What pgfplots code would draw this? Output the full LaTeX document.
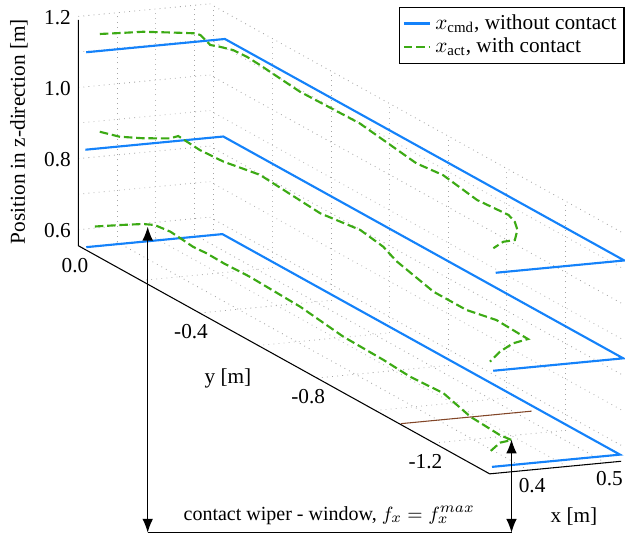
\documentclass[border=0pt]{standalone}
\usepackage{fontspec}
\setmainfont{Liberation Serif}
\usepackage{pgfplots}
\pgfplotsset{compat=1.18}
\usetikzlibrary{calc,arrows.meta}

\definecolor{cmdblue}{RGB}{20,130,250}
\definecolor{actgreen}{RGB}{60,170,20}
\definecolor{edgebrown}{RGB}{130,70,40}

\begin{document}
\begin{tikzpicture}
\begin{axis}[
  x={(363.31pt,34.78pt)}, y={(-137.71pt,76.375pt)}, z={(0pt,167.085pt)},
  xmin=0.35, xmax=0.52, ymin=-1.39, ymax=0.014, zmin=0.555, zmax=1.2,
  clip=false,
  axis line style={draw=none},
  major tick length=0pt, minor tick length=0pt,
  xtick={0.4,0.5}, xticklabels={0.4,0.5},
  ytick={-1.2,-0.8,-0.4,0}, yticklabels={-1.2,-0.8,-0.4,0.0},
  ztick={0.6,0.8,1.0,1.2}, zticklabels={0.6,0.8,1.0,1.2},
  xticklabel style={xshift=-2.6pt},
  yticklabel style={xshift=4pt},
  zticklabel style={yshift=-2.6pt},
  minor xtick={0.45}, minor ytick={-1.0,-0.6,-0.2}, minor ztick={0.7,0.9,1.1},
  grid=both,
  grid style={dotted, gray!70, line width=0.4pt},
  minor grid style={dotted, gray!55, line width=0.4pt},
  legend style={at={(axis cs:0.9723,-0.2085,1.2)}, anchor=north east,
    draw=black, line width=0.5pt, inner sep=1.5pt, row sep=-1.5pt},
  legend cell align=left,
  legend image code/.code={\draw[#1] (0cm,0cm) -- (0.43cm,0cm);},
]
% commanded path, three heights
\addplot3[cmdblue, line width=1pt] coordinates {
  (0.3425,-0.033,0.574) (0.5186,-0.033,0.574) (0.5186,-1.39,0.574) (0.353,-1.39,0.574)};
\addlegendentry{$x_{\mathrm{cmd}}$, without contact}
% actual path with contact
\addplot3[actgreen, line width=1pt, dash pattern=on 4pt off 1.8pt] coordinates {
  (0.393,0.071,0.574) (0.424,0.066,0.574) (0.451,0.060,0.574) (0.462,0.049,0.574)
  (0.466,0.006,0.574) (0.464,-0.034,0.574) (0.461,-0.084,0.574) (0.463,-0.126,0.574)
  (0.462,-0.187,0.574) (0.464,-0.270,0.574) (0.460,-0.453,0.574) (0.448,-0.632,0.574)
  (0.446,-0.775,0.574) (0.442,-0.876,0.574) (0.446,-0.979,0.574) (0.429,-1.116,0.574)
  (0.425,-1.227,0.574) (0.428,-1.259,0.574) (0.410,-1.267,0.574) (0.381,-1.309,0.574)};
\addlegendentry{$x_{\mathrm{act}}$, with contact}

\addplot3[cmdblue, line width=1pt, forget plot] coordinates {
  (0.3444,-0.025,0.844) (0.5228,-0.025,0.844) (0.5228,-1.39,0.844) (0.3546,-1.39,0.844)};
\addplot3[cmdblue, line width=1pt, forget plot] coordinates {
  (0.3447,-0.027,1.119) (0.5241,-0.027,1.119) (0.5241,-1.39,1.119) (0.3578,-1.39,1.119)};

\addplot3[actgreen, line width=1pt, dash pattern=on 4pt off 1.8pt, forget plot] coordinates {
  (0.396,0.062,0.844) (0.408,0.026,0.844) (0.431,0.006,0.844) (0.460,-0.008,0.844)
  (0.474,0.000,0.844) (0.470,-0.084,0.844) (0.473,-0.157,0.844) (0.482,-0.213,0.844)
  (0.487,-0.245,0.844) (0.477,-0.477,0.844) (0.488,-0.584,0.844) (0.480,-0.684,0.844)
  (0.466,-0.765,0.844) (0.446,-0.945,0.844) (0.446,-1.058,0.844) (0.459,-1.125,0.844)
  (0.456,-1.241,0.844) (0.431,-1.256,0.844) (0.400,-1.293,0.844) (0.369,-1.341,0.844)};
\addplot3[actgreen, line width=1pt, dash pattern=on 4pt off 1.8pt, forget plot] coordinates {
  (0.396,0.062,1.119) (0.420,0.057,1.119) (0.448,0.052,1.119) (0.476,0.035,1.119)
  (0.502,0.018,1.119) (0.505,0.006,1.119) (0.496,-0.051,1.119) (0.503,-0.065,1.119)
  (0.511,-0.089,1.119) (0.513,-0.131,1.119) (0.511,-0.181,1.119) (0.502,-0.341,1.119)
  (0.505,-0.537,1.119) (0.488,-0.776,1.119) (0.494,-0.851,1.119) (0.482,-0.999,1.119)
  (0.487,-1.093,1.119) (0.480,-1.133,1.119) (0.467,-1.176,1.119) (0.444,-1.228,1.119)
  (0.428,-1.231,1.119) (0.404,-1.260,1.119)};

% window edge on the floor
\addplot3[edgebrown, line width=0.5pt, forget plot] coordinates {
  (0.352,-1.082,0.555) (0.521,-1.082,0.555)};

% axis lines
\draw[black, line width=0.5pt] (axis cs:0.35,0.014,1.19) -- (axis cs:0.35,0.014,0.555)
  -- (axis cs:0.35,-1.39,0.555) -- (axis cs:0.52,-1.39,0.555);
\coordinate (C1) at (axis cs:0.35,0.014,0.555);
\end{axis}

\begin{scope}[shift={(C1)}, x=0.47pt, y=-0.47pt]
  \draw[line width=0.6pt, {Latex[length=6.5pt,width=5pt]}-{Latex[length=6.5pt,width=5pt]}]
    (69.4,-19) -- (69.4,287);
  \draw[line width=0.6pt, {Latex[length=6.5pt,width=5pt]}-{Latex[length=6.5pt,width=5pt]}]
    (433.2,193.8) -- (433.2,287);
  \draw[line width=0.6pt] (69.4,287) -- (433.2,287);
  \node[font=\fontsize{9.4}{11}\selectfont] at (251,269.5) {contact wiper - window, $f_x = f_x^{max}$};
  \node[rotate=90] at (-59.3,-114.2) {Position in z-direction [m]};
  \node at (149.7,132.3) {y [m]};
  \node at (495.7,270.8) {x [m]};
  \pgfresetboundingbox
  \path (-78.3,-245.7) rectangle (546.7,290.3);
\end{scope}
\end{tikzpicture}
\end{document}
